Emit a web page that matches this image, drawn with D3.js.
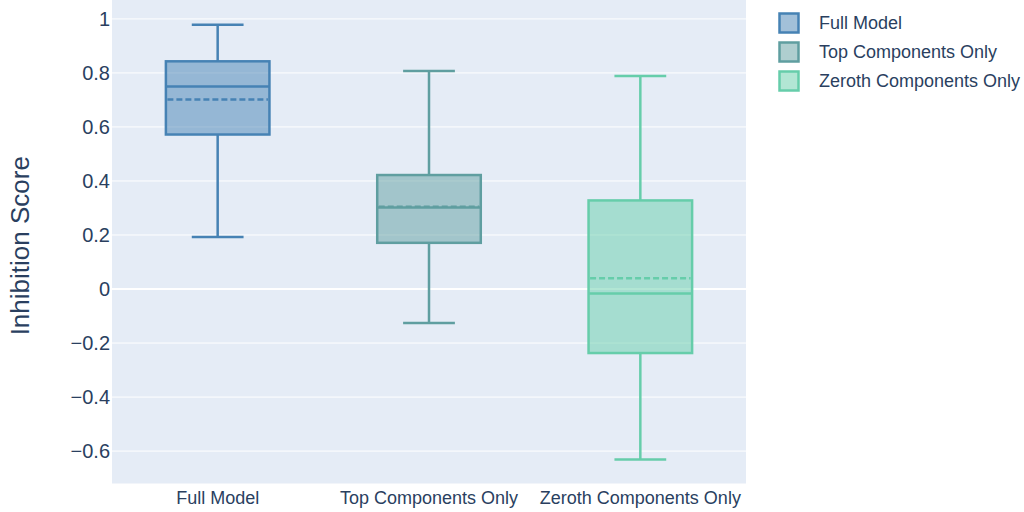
<!DOCTYPE html>
<html>
<head>
<meta charset="utf-8">
<script src="https://cdn.jsdelivr.net/npm/d3@7"></script>
<style>
  html, body { margin: 0; padding: 0; background: #fff; }
  svg { display: block; font-family: "Liberation Sans", Arial, sans-serif; }
</style>
</head>
<body>
<svg id="chart" width="1024" height="512"></svg>
<script>
const categories = ["Full Model", "Top Components Only", "Zeroth Components Only"];
const lowerWhisker = [0.193, -0.126, -0.631];
const q1Values     = [0.572, 0.171, -0.237];
const medianValues = [0.750, 0.302, -0.017];
const meanValues   = [0.702, 0.305, 0.040];
const q3Values     = [0.843, 0.422, 0.328];
const upperWhisker = [0.978, 0.807, 0.789];
const colors = ["#4682B4", "#5F9EA0", "#66CDAA"];
const yTicks = [-0.6, -0.4, -0.2, 0, 0.2, 0.4, 0.6, 0.8, 1];

const svg = d3.select("#chart");
const plot = { left: 112, right: 746, top: 0, bottom: 483.5 };
const textColor = "#2a3f5f";

const x = d3.scaleBand().domain(categories).range([plot.left, plot.right]);
const y = d3.scaleLinear().domain([-0.72, 1.07]).range([plot.bottom, plot.top]);

svg.append("rect")
  .attr("x", plot.left).attr("y", plot.top)
  .attr("width", plot.right - plot.left).attr("height", plot.bottom - plot.top)
  .attr("fill", "#E5ECF6");

// grid
svg.append("g").selectAll("line").data(yTicks).join("line")
  .attr("x1", plot.left).attr("x2", plot.right)
  .attr("y1", d => y(d)).attr("y2", d => y(d))
  .attr("stroke", "#fff").attr("stroke-width", d => d === 0 ? 2 : 1);

// y tick labels
const fmt = d => (d < 0 ? "\u2212" : "") + (d === 1 ? "1" : d === 0 ? "0" : String(Math.abs(d)).replace(/^0/, "0"));
svg.append("g").selectAll("text").data(yTicks).join("text")
  .attr("x", 110).attr("y", d => y(d))
  .attr("dy", "0.36em")
  .attr("text-anchor", "end")
  .attr("font-size", 20).attr("fill", textColor)
  .text(fmt);

// x tick labels
svg.append("g").selectAll("text").data(categories).join("text")
  .attr("x", d => x(d) + x.bandwidth() / 2).attr("y", 504)
  .attr("text-anchor", "middle")
  .attr("font-size", 18).attr("fill", textColor)
  .text(d => d);

// y axis title
svg.append("text")
  .attr("transform", `translate(29, ${(plot.top + plot.bottom) / 2 + 4}) rotate(-90)`)
  .attr("text-anchor", "middle")
  .attr("font-size", 26).attr("fill", textColor)
  .text("Inhibition Score");

// boxes
const boxW = x.bandwidth() * 0.49;
const capW = boxW / 2;
categories.forEach((c, i) => {
  const cx = x(c) + x.bandwidth() / 2;
  const g = svg.append("g");
  const col = colors[i];
  // whiskers
  g.append("line").attr("x1", cx).attr("x2", cx)
    .attr("y1", y(upperWhisker[i])).attr("y2", y(q3Values[i]))
    .attr("stroke", col).attr("stroke-width", 2.5);
  g.append("line").attr("x1", cx).attr("x2", cx)
    .attr("y1", y(q1Values[i])).attr("y2", y(lowerWhisker[i]))
    .attr("stroke", col).attr("stroke-width", 2.5);
  [upperWhisker[i], lowerWhisker[i]].forEach(v => {
    g.append("line").attr("x1", cx - capW / 2).attr("x2", cx + capW / 2)
      .attr("y1", y(v)).attr("y2", y(v))
      .attr("stroke", col).attr("stroke-width", 2.5);
  });
  // box
  g.append("rect")
    .attr("x", cx - boxW / 2).attr("y", y(q3Values[i]))
    .attr("width", boxW).attr("height", y(q1Values[i]) - y(q3Values[i]))
    .attr("fill", col).attr("fill-opacity", 0.5)
    .attr("stroke", col).attr("stroke-width", 2.5);
  // median
  g.append("line").attr("x1", cx - boxW / 2).attr("x2", cx + boxW / 2)
    .attr("y1", y(medianValues[i])).attr("y2", y(medianValues[i]))
    .attr("stroke", col).attr("stroke-width", 2.5);
  // mean
  g.append("line").attr("x1", cx - boxW / 2 + 1.5).attr("x2", cx + boxW / 2 - 1.5)
    .attr("y1", y(meanValues[i])).attr("y2", y(meanValues[i]))
    .attr("stroke", col).attr("stroke-width", 2.5)
    .attr("stroke-dasharray", "6,3");
});

// legend
const leg = svg.append("g");
categories.forEach((c, i) => {
  const cy = 23 + i * 29;
  leg.append("rect").attr("x", 779.5).attr("y", cy - 9.5)
    .attr("width", 19).attr("height", 19)
    .attr("fill", colors[i]).attr("fill-opacity", 0.5)
    .attr("stroke", colors[i]).attr("stroke-width", 2.5);
  leg.append("text").attr("x", 819).attr("y", cy).attr("dy", "0.36em")
    .attr("font-size", 18).attr("fill", textColor).text(c);
});
</script>
</body>
</html>
